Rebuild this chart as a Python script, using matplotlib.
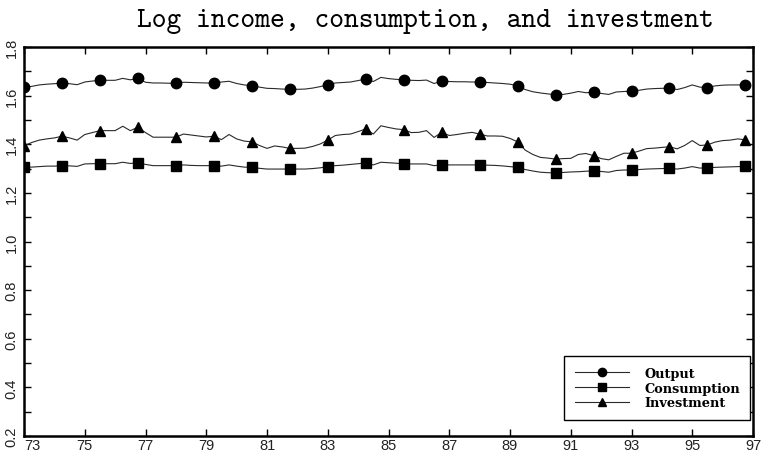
import numpy as np
import matplotlib
matplotlib.use("Agg")
import matplotlib.pyplot as plt
from matplotlib.legend_handler import HandlerLine2D

# quarterly data 1973Q1 .. 1996Q4
start_year = 73
n_quarters = 96

output = [1.634, 1.638, 1.644, 1.647, 1.649, 1.652, 1.649, 1.645, 1.656, 1.660,
          1.663, 1.663, 1.663, 1.671, 1.665, 1.671, 1.655, 1.652, 1.652, 1.651,
          1.651, 1.655, 1.654, 1.653, 1.652, 1.652, 1.656, 1.659, 1.650, 1.644,
          1.641, 1.635, 1.630, 1.629, 1.627, 1.626, 1.626, 1.627, 1.631, 1.637,
          1.645, 1.652, 1.654, 1.656, 1.662, 1.668, 1.658, 1.675, 1.670, 1.667,
          1.665, 1.663, 1.662, 1.664, 1.650, 1.659, 1.658, 1.657, 1.657, 1.656,
          1.656, 1.654, 1.652, 1.650, 1.647, 1.641, 1.625, 1.616, 1.611, 1.607,
          1.604, 1.605, 1.610, 1.617, 1.612, 1.614, 1.609, 1.605, 1.615, 1.617,
          1.618, 1.622, 1.627, 1.629, 1.630, 1.631, 1.625, 1.633, 1.644, 1.635,
          1.633, 1.640, 1.643, 1.644, 1.644, 1.645]

consumption = [1.305, 1.306, 1.308, 1.310, 1.310, 1.312, 1.311, 1.309, 1.319, 1.320,
               1.320, 1.320, 1.320, 1.326, 1.321, 1.324, 1.317, 1.312, 1.312, 1.312,
               1.312, 1.315, 1.313, 1.312, 1.312, 1.312, 1.310, 1.315, 1.310, 1.306,
               1.305, 1.301, 1.298, 1.298, 1.298, 1.298, 1.298, 1.298, 1.300, 1.303,
               1.308, 1.312, 1.314, 1.317, 1.320, 1.323, 1.315, 1.326, 1.324, 1.322,
               1.319, 1.319, 1.319, 1.319, 1.312, 1.315, 1.315, 1.315, 1.315, 1.315,
               1.315, 1.314, 1.313, 1.311, 1.308, 1.305, 1.296, 1.290, 1.285, 1.283,
               1.282, 1.284, 1.286, 1.287, 1.289, 1.291, 1.288, 1.285, 1.292, 1.294,
               1.294, 1.296, 1.298, 1.299, 1.300, 1.301, 1.298, 1.302, 1.308, 1.302,
               1.303, 1.305, 1.306, 1.307, 1.308, 1.309]

investment = [1.394, 1.407, 1.417, 1.422, 1.426, 1.433, 1.426, 1.417, 1.440, 1.448,
              1.456, 1.456, 1.456, 1.474, 1.456, 1.470, 1.448, 1.429, 1.429, 1.429,
              1.429, 1.442, 1.438, 1.434, 1.430, 1.433, 1.419, 1.440, 1.422, 1.413,
              1.410, 1.395, 1.383, 1.393, 1.389, 1.383, 1.383, 1.384, 1.391, 1.401,
              1.417, 1.436, 1.440, 1.442, 1.452, 1.463, 1.442, 1.476, 1.469, 1.463,
              1.460, 1.448, 1.449, 1.456, 1.428, 1.449, 1.436, 1.440, 1.445, 1.449,
              1.442, 1.434, 1.434, 1.433, 1.424, 1.410, 1.376, 1.358, 1.346, 1.343,
              1.339, 1.341, 1.342, 1.358, 1.362, 1.353, 1.341, 1.336, 1.350, 1.363,
              1.363, 1.372, 1.382, 1.384, 1.387, 1.390, 1.381, 1.395, 1.415, 1.395,
              1.397, 1.409, 1.415, 1.417, 1.422, 1.418]

x_ticks = [73, 75, 77, 79, 81, 83, 85, 87, 89, 91, 93, 95, 97]
y_ticks = [0.2, 0.4, 0.6, 0.8, 1.0, 1.2, 1.4, 1.6, 1.8]

years = start_year + np.arange(n_quarters) / 4.0


class LeftMarker(HandlerLine2D):
    # marker sits at the left end of the legend line
    def get_xdata(self, legend, xdescent, ydescent, width, height, fontsize):
        x0 = -xdescent
        return [x0, x0 + width], [x0]


fig = plt.figure(figsize=(7.63, 4.52), dpi=100)
ax = fig.add_axes([24/763, 1-437/452, (753-24)/763, (437-48)/452])

line_kw = dict(color="#2a2a2a", lw=0.8, markevery=5, markersize=7.5,
               markerfacecolor="black", markeredgecolor="black")
ax.plot(years, output, marker="o", label="Output", **line_kw)
ax.plot(years, consumption, marker="s", label="Consumption",
        **dict(line_kw, markersize=7))
ax.plot(years, investment, marker="^", label="Investment", **line_kw)

ax.set_xlim(73, 97)
ax.set_ylim(0.2, 1.8)
ax.set_xticks(x_ticks)
ax.set_xticklabels([str(t) for t in x_ticks], fontsize=10.5,
                   family="Liberation Sans", color="#222222")
ax.get_xticklabels()[0].set_horizontalalignment("left")
ax.set_yticks(y_ticks)
ax.set_yticks(np.arange(0.3, 1.8, 0.2), minor=True)
ax.set_yticklabels(["%.1f" % t for t in y_ticks], rotation=90, va="center",
                   fontsize=10.5, family="Liberation Sans", color="#222222")

ax.tick_params(which="both", direction="in", length=5, width=1,
               top=True, right=True)
ax.tick_params(axis="x", pad=1.5)
ax.tick_params(axis="y", pad=4)
for s in ax.spines.values():
    s.set_linewidth(1.8)

# typewriter face shipped with matplotlib
ax.set_title("Log income, consumption, and investment",
             family=["cmtt10", "DejaVu Serif"], fontsize=20.3, pad=15, x=0.55)

leg = ax.legend(loc="lower right", bbox_to_anchor=(1.0, 0.035),
                handler_map={plt.Line2D: LeftMarker()},
                prop={"family": "DejaVu Serif", "weight": "bold", "size": 9.3},
                fancybox=False, edgecolor="black", framealpha=1,
                handlelength=4.2, handletextpad=1.2, labelspacing=0.15,
                borderpad=0.8, borderaxespad=0.2, markerscale=0.8)
leg.get_frame().set_linewidth(1.0)

fig.savefig("out.png", dpi=100)
